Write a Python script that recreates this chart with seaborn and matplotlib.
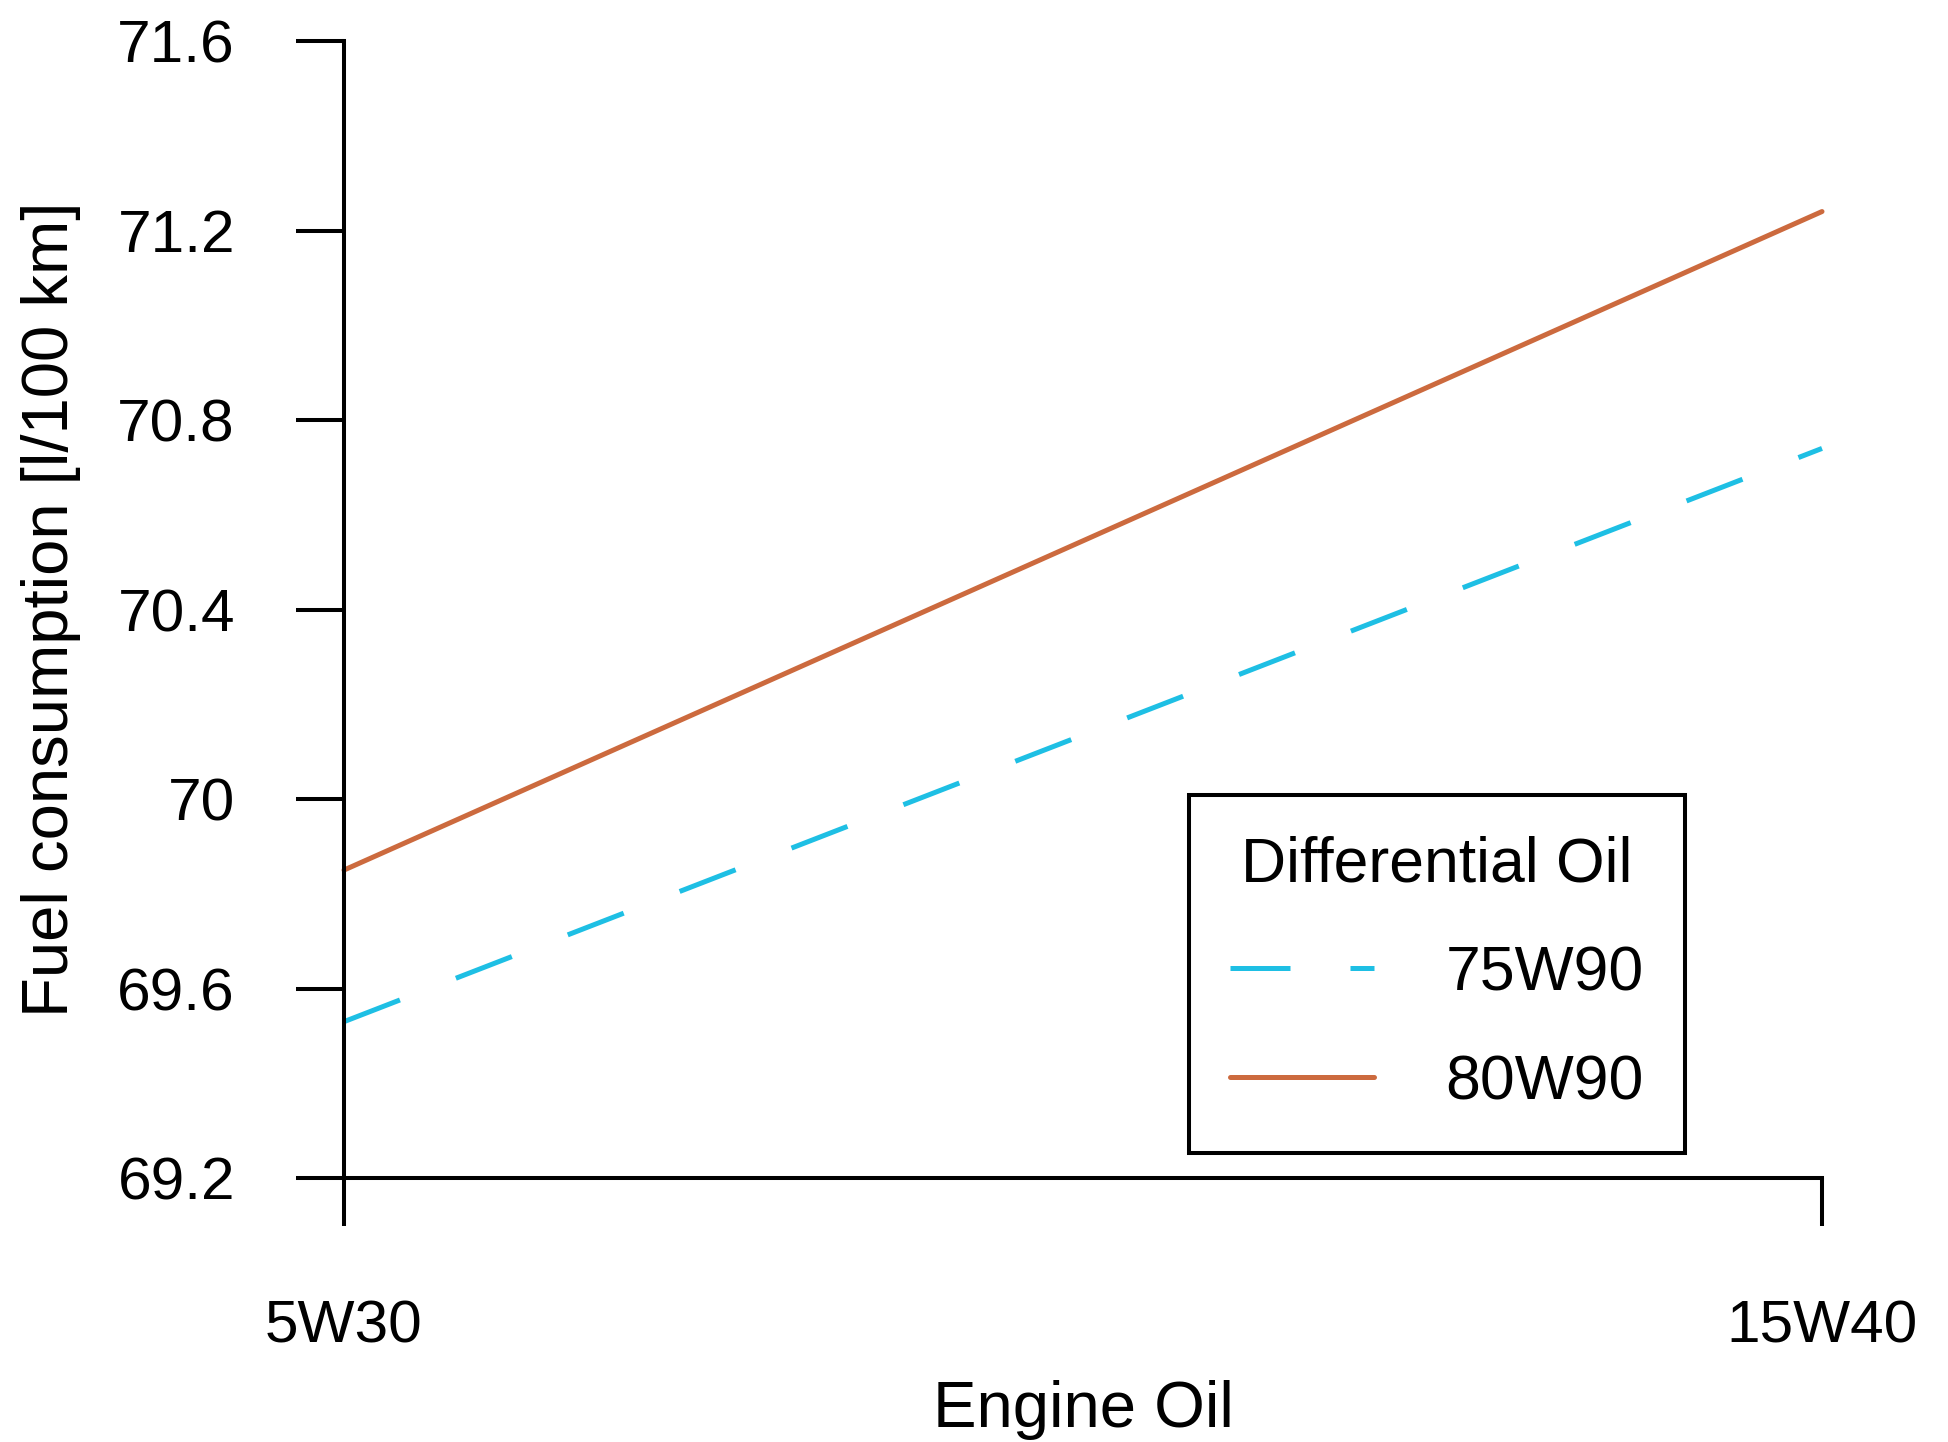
import matplotlib
matplotlib.use("Agg")
import matplotlib.pyplot as plt
import seaborn as sns
import pandas as pd

# Fuel consumption by engine oil grade, one series per differential oil
engine_oils = ["5W30", "15W40"]
diff_oils = ["75W90", "80W90"]
fuel_75w90 = [69.53, 70.74]
fuel_80w90 = [69.85, 71.24]
y_ticks = [69.2, 69.6, 70.0, 70.4, 70.8, 71.2, 71.6]
y_tick_labels = ["69.2", "69.6", "70", "70.4", "70.8", "71.2", "71.6"]

df = pd.DataFrame({
    "Engine Oil": engine_oils * 2,
    "Differential Oil": [diff_oils[0]] * 2 + [diff_oils[1]] * 2,
    "Fuel": fuel_75w90 + fuel_80w90,
})

sns.set_style("ticks")
plt.rcParams["font.family"] = ["Liberation Sans", "DejaVu Sans"]
plt.rcParams["text.color"] = "black"
plt.rcParams["axes.labelcolor"] = "black"
plt.rcParams["xtick.color"] = "black"
plt.rcParams["ytick.color"] = "black"

DPI = 100
fig = plt.figure(figsize=(19.48, 14.42), dpi=DPI)
ax = fig.add_axes([344 / 1948, 1 - 1178 / 1442, (1822 - 344) / 1948, (1178 - 41) / 1442])

palette = {"75W90": "#1EBFE4", "80W90": "#CC6A3E"}
dashes = {"75W90": (12, 12), "80W90": ""}
sns.lineplot(data=df, x="Engine Oil", y="Fuel", hue="Differential Oil",
             style="Differential Oil", palette=palette, dashes=dashes,
             linewidth=3.6, ax=ax, sort=False)

for ln in ax.lines:
    ln.set_clip_on(False)

ax.set_xlim(0, 1)
ax.set_ylim(69.2, 71.6)
ax.set_xticks([0, 1])
ax.set_xticklabels(engine_oils)
ax.set_yticks(y_ticks)
ax.set_yticklabels(y_tick_labels)

for side in ["top", "right"]:
    ax.spines[side].set_visible(False)
for side in ["left", "bottom"]:
    ax.spines[side].set_linewidth(2.9)
    ax.spines[side].set_color("black")

ax.tick_params(axis="both", which="major", direction="out", length=34.5,
               width=2.9, color="black", labelcolor="black", labelsize=43.5,
               pad=44, bottom=True, left=True)
ax.tick_params(axis="x", pad=53)

ax.set_xlabel("Engine Oil", fontsize=47, labelpad=18, color="black")
ax.set_ylabel("Fuel consumption [l/100 km]", fontsize=47, labelpad=26, color="black")

handles, labels = ax.get_legend_handles_labels()
leg = ax.legend(handles, labels, title="Differential Oil",
                loc="lower left", bbox_to_anchor=(0.572, 0.022),
                fontsize=45, title_fontsize=45, frameon=True,
                fancybox=False, framealpha=1, edgecolor="black",
                handlelength=2.3, handletextpad=1.15, labelspacing=0.8,
                borderpad=0.65, borderaxespad=0)
leg.get_frame().set_linewidth(2.9)
for t in leg.get_texts():
    t.set_horizontalalignment("left")
    t.set_color("black")
leg.get_title().set_color("black")
for h in leg.get_lines():
    h.set_linewidth(3.6)

fig.savefig("out.png", dpi=DPI, facecolor="white")
